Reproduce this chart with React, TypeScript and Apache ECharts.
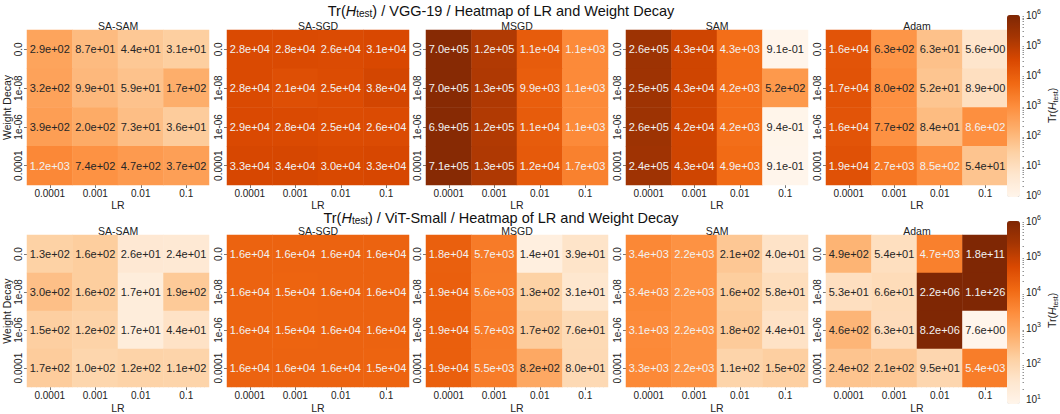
import React, { useEffect, useRef } from 'react';
import * as echarts from 'echarts';

const LR_LABELS = ['0.0001', '0.001', '0.01', '0.1'];
const WD_LABELS = ['0.0', '1e-08', '1e-06', '0.0001'];
const OPTIMIZERS = ['SA-SAM', 'SA-SGD', 'MSGD', 'SAM', 'Adam'];
const VMAX_EXP = 6;

// VGG-19 (rows: WD 0.0, 1e-08, 1e-06, 0.0001; cols: LR 0.0001..0.1)
const VGG_SA_SAM = [
  [2.9e2, 8.7e1, 4.4e1, 3.1e1],
  [3.2e2, 9.9e1, 5.9e1, 1.7e2],
  [3.9e2, 2.0e2, 7.3e1, 3.6e1],
  [1.2e3, 7.4e2, 4.7e2, 3.7e2],
];
const VGG_SA_SGD = [
  [2.8e4, 2.8e4, 2.6e4, 3.1e4],
  [2.8e4, 2.1e4, 2.5e4, 3.8e4],
  [2.9e4, 2.8e4, 2.5e4, 2.6e4],
  [3.3e4, 3.4e4, 3.0e4, 3.3e4],
];
const VGG_MSGD = [
  [7.0e5, 1.2e5, 1.1e4, 1.1e3],
  [7.0e5, 1.3e5, 9.9e3, 1.1e3],
  [6.9e5, 1.2e5, 1.1e4, 1.1e3],
  [7.1e5, 1.3e5, 1.2e4, 1.7e3],
];
const VGG_SAM = [
  [2.6e5, 4.3e4, 4.3e3, 9.1e-1],
  [2.5e5, 4.3e4, 4.2e3, 5.2e2],
  [2.6e5, 4.2e4, 4.2e3, 9.4e-1],
  [2.4e5, 4.3e4, 4.9e3, 9.1e-1],
];
const VGG_ADAM = [
  [1.6e4, 6.3e2, 6.3e1, 5.6e0],
  [1.7e4, 8.0e2, 5.2e1, 8.9e0],
  [1.6e4, 7.7e2, 8.4e1, 8.6e2],
  [1.9e4, 2.7e3, 8.5e2, 5.4e1],
];

// ViT-Small
const VIT_SA_SAM = [
  [1.3e2, 1.6e2, 2.6e1, 2.4e1],
  [3.0e2, 1.6e2, 1.7e1, 1.9e2],
  [1.5e2, 1.2e2, 1.7e1, 4.4e1],
  [1.7e2, 1.0e2, 1.2e2, 1.1e2],
];
const VIT_SA_SGD = [
  [1.6e4, 1.6e4, 1.6e4, 1.6e4],
  [1.6e4, 1.5e4, 1.6e4, 1.6e4],
  [1.6e4, 1.5e4, 1.6e4, 1.6e4],
  [1.6e4, 1.6e4, 1.6e4, 1.5e4],
];
const VIT_MSGD = [
  [1.8e4, 5.7e3, 1.4e1, 3.9e1],
  [1.9e4, 5.6e3, 1.3e2, 3.1e1],
  [1.9e4, 5.7e3, 1.7e2, 7.6e1],
  [1.9e4, 5.5e3, 8.2e2, 8.0e1],
];
const VIT_SAM = [
  [3.4e3, 2.2e3, 2.1e2, 4.0e1],
  [3.4e3, 2.2e3, 1.6e2, 5.8e1],
  [3.1e3, 2.2e3, 1.8e2, 4.4e1],
  [3.3e3, 2.2e3, 1.1e2, 1.5e2],
];
const VIT_ADAM = [
  [4.9e2, 5.4e1, 4.7e3, 1.8e11],
  [5.3e1, 6.6e1, 2.2e6, 1.1e26],
  [4.6e2, 6.3e1, 8.2e6, 7.6e0],
  [2.4e2, 2.1e2, 9.5e1, 5.4e3],
];

const ROWS = [
  { model: 'VGG-19', panels: [VGG_SA_SAM, VGG_SA_SGD, VGG_MSGD, VGG_SAM, VGG_ADAM] },
  { model: 'ViT-Small', panels: [VIT_SA_SAM, VIT_SA_SGD, VIT_MSGD, VIT_SAM, VIT_ADAM] },
];

const ORANGES = ['#fff5eb', '#fee6ce', '#fdd0a2', '#fdae6b', '#fd8d3c', '#f16913', '#d94801', '#a63603', '#7f2704'];
const FONT = '"Liberation Sans", Arial, Helvetica, sans-serif';
const DARK = '#262626';
const LIGHT = '#f2f2f2';
const TICK = '#555';

function fmt(v: number): string {
  const s = v.toExponential(1);
  const [m, e] = s.split('e');
  return m + 'e' + e[0] + e.slice(1).padStart(2, '0');
}

const GRID_LEFTS = [27, 227, 426, 626, 826];
const GRID_W = 182;
const GRID_H = 155;
const ROW_TOPS = [30, 235];
const CB = [
  { top: 15, height: 182 },
  { top: 221, height: 183 },
];
const CB_X = 1019;
const CB_W = 13;

function buildOption() {
  const grid: any[] = [];
  const xAxis: any[] = [];
  const yAxis: any[] = [];
  const series: any[] = [];
  const visualMap: any[] = [];
  const title: any[] = [];

  const richTitle = {
    n: { fontSize: 14.5, color: '#111', fontFamily: FONT, lineHeight: 15 },
    i: { fontSize: 14.5, color: '#111', fontFamily: FONT, fontStyle: 'italic', lineHeight: 15 },
    s: { fontSize: 10, color: '#111', fontFamily: FONT, lineHeight: 9, verticalAlign: 'bottom' },
  };

  ROWS.forEach((row, r) => {
    const allVals = row.panels.flat().flat();
    const vminExp = Math.log10(Math.min(...allVals));
    title.push({
      text: `{n|Tr(}{i|H}{s|test}{n|) / ${row.model} / Heatmap of LR and Weight Decay}`,
      left: 501,
      top: r === 0 ? 3 : 210,
      textAlign: 'center',
      padding: 0,
      textStyle: { rich: richTitle, fontWeight: 'normal' },
    });
    const seriesIdx: number[] = [];
    row.panels.forEach((mat, c) => {
      const g = grid.length;
      grid.push({ left: GRID_LEFTS[c], top: ROW_TOPS[r], width: GRID_W, height: GRID_H });
      title.push({
        text: OPTIMIZERS[c],
        left: GRID_LEFTS[c] + GRID_W / 2,
        top: ROW_TOPS[r] - 10,
        textAlign: 'center',
        padding: 0,
        textStyle: { fontSize: 10.5, fontWeight: 'normal', color: '#222', fontFamily: FONT, lineHeight: 11 },
      });
      const xi = xAxis.length;
      const yi = yAxis.length;
      const catTick = { show: true, inside: true, alignWithLabel: true, interval: 0, length: 3, lineStyle: { color: TICK, width: 0.8 } };
      const minor = { show: true, splitNumber: 10, length: 1.5, lineStyle: { color: '#777', width: 0.8 } };
      xAxis.push({
        gridIndex: g, type: 'category', position: 'bottom', data: LR_LABELS,
        axisLine: { show: false }, axisTick: catTick, splitLine: { show: false },
        axisLabel: { fontSize: 10, color: '#222', margin: 3, interval: 0, fontFamily: FONT, lineHeight: 11 },
        name: 'LR', nameLocation: 'middle', nameGap: 8,
        nameTextStyle: { fontSize: 10.5, color: '#222', fontFamily: FONT, lineHeight: 10 },
      });
      xAxis.push({
        gridIndex: g, type: 'category', position: 'top', data: LR_LABELS,
        axisLine: { show: false }, axisTick: catTick, axisLabel: { show: false }, splitLine: { show: false },
      });
      ['top', 'bottom'].forEach((pos) => {
        xAxis.push({
          gridIndex: g, type: 'value', position: pos, min: 0, max: 4, interval: 1,
          axisLine: { show: false }, axisLabel: { show: false }, splitLine: { show: false },
          axisTick: { show: false, inside: true }, minorTick: minor, minorSplitLine: { show: false },
        });
      });
      yAxis.push({
        gridIndex: g, type: 'category', position: 'left', inverse: true, data: WD_LABELS,
        axisLine: { show: false }, axisTick: catTick, splitLine: { show: false },
        axisLabel: { fontSize: 10, color: '#222', margin: 4, rotate: 90, interval: 0, hideOverlap: false, fontFamily: FONT },
        name: c === 0 ? 'Weight Decay' : '', nameLocation: 'middle', nameGap: 12, nameRotate: 90,
        nameTextStyle: { fontSize: 10.5, color: '#222', fontFamily: FONT },
      });
      yAxis.push({
        gridIndex: g, type: 'category', position: 'right', inverse: true, data: WD_LABELS,
        axisLine: { show: false }, axisTick: catTick, axisLabel: { show: false }, splitLine: { show: false },
      });
      ['left', 'right'].forEach((pos) => {
        yAxis.push({
          gridIndex: g, type: 'value', position: pos, min: 0, max: 4, interval: 1,
          axisLine: { show: false }, axisLabel: { show: false }, splitLine: { show: false },
          axisTick: { show: false, inside: true }, minorTick: minor, minorSplitLine: { show: false },
        });
      });
      const data: any[] = [];
      mat.forEach((rowVals, i) => {
        rowVals.forEach((v, j) => {
          const lv = Math.min(VMAX_EXP, Math.max(vminExp, Math.log10(v)));
          data.push({ value: [j, i, lv, v], label: { color: v > 830 ? LIGHT : DARK } });
        });
      });
      seriesIdx.push(series.length);
      series.push({
        type: 'heatmap',
        xAxisIndex: xi,
        yAxisIndex: yi,
        data,
        label: {
          show: true, fontSize: 11, fontFamily: FONT,
          formatter: (p: any) => fmt(p.value[3]),
        },
        itemStyle: { borderWidth: 0 },
        emphasis: { disabled: true },
      });
    });

    // colorbar bar
    visualMap.push({
      type: 'continuous',
      min: vminExp,
      max: VMAX_EXP,
      dimension: 2,
      seriesIndex: seriesIdx,
      inRange: { color: ORANGES },
      orient: 'vertical',
      left: CB_X - 12,
      top: CB[r].top,
      itemWidth: CB_W,
      itemHeight: CB[r].height,
      calculable: false,
      hoverLink: false,
      padding: 0,
      text: null,
    });
    // colorbar axis (decade ticks), grid spans from the lowest whole decade to the top
    const lowDec = Math.ceil(vminExp - 1e-9);
    const pxPerDec = CB[r].height / (VMAX_EXP - vminExp);
    const axisHeight = (VMAX_EXP - lowDec) * pxPerDec;
    const cg = grid.length;
    grid.push({ left: CB_X, top: CB[r].top, width: CB_W, height: axisHeight });
    xAxis.push({ gridIndex: cg, type: 'value', show: false, min: 0, max: 1 });
    const minors: number[] = [];
    for (let d = lowDec; d < VMAX_EXP; d++) {
      for (let k = 2; k <= 9; k++) minors.push(d + Math.log10(k));
    }
    yAxis.push({
      gridIndex: cg, type: 'value', position: 'right', min: lowDec, max: VMAX_EXP, interval: 1,
      axisLine: { show: false }, splitLine: { show: false },
      axisTick: { show: true, inside: true, length: 3, lineStyle: { color: TICK, width: 0.8 } },
      axisLabel: {
        show: true, margin: 2, showMinLabel: true, showMaxLabel: true,
        formatter: (v: number) => `{b|10}{t|${Math.round(v)}}`,
        rich: {
          b: { fontSize: 10, color: '#222', fontFamily: FONT, lineHeight: 14 },
          t: { fontSize: 7, color: '#222', fontFamily: FONT, lineHeight: 8, verticalAlign: 'top' },
        },
      },
      name: '{n|Tr(}{i|H}{s|test}{n|)}',
      nameLocation: 'middle', nameGap: 21, nameRotate: 90,
      nameTextStyle: {
        rich: {
          n: { fontSize: 10.5, color: '#222', fontFamily: FONT, lineHeight: 14 },
          i: { fontSize: 10.5, color: '#222', fontFamily: FONT, fontStyle: 'italic', lineHeight: 14 },
          s: { fontSize: 7, color: '#222', fontFamily: FONT, lineHeight: 8, verticalAlign: 'bottom' },
        },
      },
    });
    yAxis.push({
      gridIndex: cg, type: 'value', position: 'right', min: lowDec, max: VMAX_EXP,
      axisLine: { show: false }, splitLine: { show: false }, axisLabel: { show: false },
      axisTick: { show: true, inside: true, length: 1.5, customValues: minors, lineStyle: { color: '#777', width: 0.8 } },
    });
  });

  return {
    animation: false,
    backgroundColor: '#ffffff',
    textStyle: { fontFamily: FONT },
    title,
    grid,
    xAxis,
    yAxis,
    visualMap,
    series,
  };
}

export default function App() {
  const ref = useRef<HTMLDivElement>(null);
  useEffect(() => {
    if (!ref.current) return;
    const chart = echarts.init(ref.current, undefined, { renderer: 'svg' });
    chart.setOption(buildOption() as any);
    return () => chart.dispose();
  }, []);
  return (
    <div
      ref={ref}
      style={{ position: 'fixed', left: 0, top: 0, width: 1060, height: 414, background: '#fff' }}
    />
  );
}
